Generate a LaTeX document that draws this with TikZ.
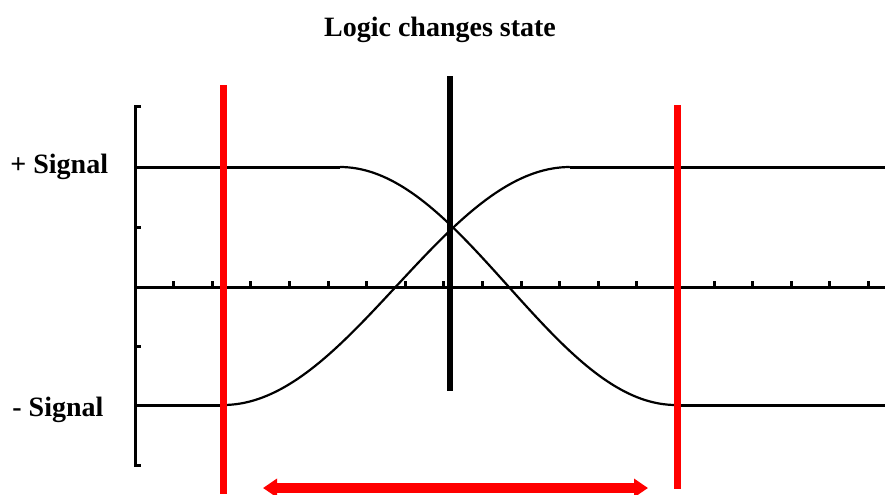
\documentclass[tikz,border=0pt]{standalone}
\usepackage{fontspec}
\setmainfont{Liberation Serif}
\usepackage{xcolor}
\usepackage{tikz}
\usetikzlibrary{arrows.meta, positioning}
\definecolor{SigRed}{RGB}{255, 0, 0}
\definecolor{SigBlack}{RGB}{0, 0, 0}

\begin{document}
\begin{tikzpicture}[
    x=0.5pt, y=-0.5pt,
    axisline/.style={draw=SigBlack, line width=1.5pt},
    levelline/.style={draw=SigBlack, line width=1.5pt},
    waveline/.style={draw=SigBlack, line width=1.1pt},
    markerline/.style={draw=SigRed, line width=3.5pt},
    centerline/.style={draw=SigBlack, line width=3pt},
    spanarrow/.style={draw=SigRed, line width=5pt, {Triangle[length=7pt,width=9pt]}-{Triangle[length=7pt,width=9pt]}},
    lbl/.style={font=\fontsize{14}{16}\selectfont\bfseries, inner sep=0pt}
  ]
    \useasboundingbox (0,0) rectangle (885,494);

    % labels
    \node[lbl] (title) at (440,30) {Logic changes state};
    \node[lbl, anchor=west] (plus) at (10,167) {+ Signal};
    \node[lbl, anchor=west] (minus) at (12,410) {- Signal};

    % axes
    \draw[axisline] (141,106) -- (135,106) -- (135,465) -- (141,465);
    \draw[axisline] (135,227) -- (141,227);
    \draw[axisline] (135,346) -- (141,346);
    \draw[axisline] (135,287) -- (885,287);
    \foreach \k in {1,...,19}
      \draw[axisline] ({135+38.6*\k},287) -- ({135+38.6*\k},281);

    % signal levels
    \draw[levelline] (135,167) -- (340,167);
    \draw[levelline] (570,167) -- (885,167);
    \draw[levelline] (135,405) -- (223,405);
    \draw[levelline] (676,405) -- (885,405);

    % transitions
    \draw[waveline] plot[domain=0:1, samples=80] ({340+336*\x}, {286-119*cos(180*\x)});
    \draw[waveline] plot[domain=0:1, samples=80] ({223+347*\x}, {286+119*cos(180*\x)});

    % switching point
    \draw[centerline] (450,76) -- (450,391);

    % window
    \draw[markerline] (223,85) -- (223,494);
    \draw[markerline] (677,105) -- (677,489);
    \coordinate (spanL) at (263,488);
    \coordinate (spanR) at (648,488);
    \draw[spanarrow] (spanL) -- (spanR);
  \end{tikzpicture}
\end{document}
